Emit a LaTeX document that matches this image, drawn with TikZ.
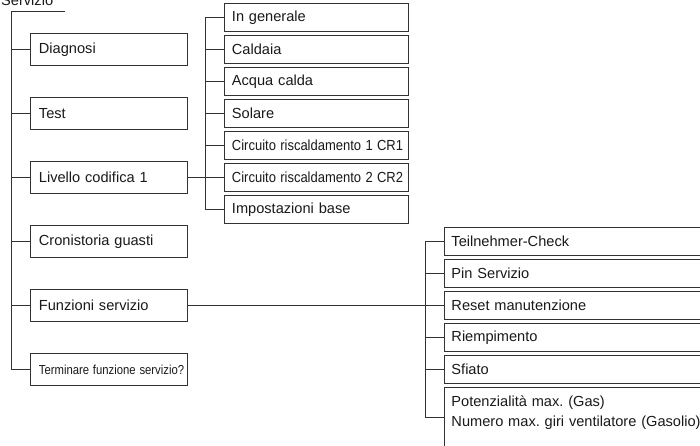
\documentclass[tikz,border=0pt]{standalone}
\usepackage{fontspec}
\usepackage{graphicx}
\setmainfont{Liberation Sans}
\usetikzlibrary{positioning, calc}
\newcommand{\narrowtext}[2]{\scalebox{#1}[1]{#2}}

\tikzset{
  menu/.style={draw=black!80, line width=0.9pt, anchor=west, align=left, inner ysep=0pt,
    font=\fontsize{14.6}{18}\selectfont, text=black!90},
  mainbox/.style={menu, text width=140pt, inner xsep=8.5pt, minimum height=32pt},
  subbox/.style={menu, text width=169pt, inner xsep=7.5pt, minimum height=28.5pt},
  funcbox/.style={menu, text width=300pt, inner xsep=7pt, minimum height=28.5pt},
  link/.style={draw=black!80, line width=0.9pt}
}

\begin{document}
\frenchspacing
\begin{tikzpicture}[x=1pt, y=-1pt]
\useasboundingbox (0,0) rectangle (700,445);
\clip (0,0) rectangle (700,445);

% ---------------- LEFT: main menu ----------------
\node[anchor=base west, inner sep=0pt, text=black!90, font=\fontsize{14.6}{18}\selectfont] (serv) at (1,5) {Servizio};
\node[mainbox] (diag) at (30,49.5) {Diagnosi};
\node[mainbox] (test) at (30,113.5) {Test};
\node[mainbox] (liv) at (30,177.5) {Livello codifica 1};
\node[mainbox] (cron) at (30,241.5) {Cronistoria guasti};
\node[mainbox] (funz) at (30,305.5) {Funzioni servizio};
\node[mainbox, font=\fontsize{13}{16}\selectfont] (term) at (30,369.5) {\narrowtext{0.87}{Terminare funzione servizio?}};
% Trunk
\coordinate (root) at (11,11);
\coordinate (rootend) at (65,11);
\draw[link] (rootend) -- (root) |- (term.west);
\foreach \n in {diag,test,liv,cron,funz} \draw[link] (root |- \n.west) -- (\n.west);

% ---------------- MIDDLE: codifica ----------------
\node[subbox] (gen) at (224,17.5) {In generale};
\node[subbox] (cald) at (224,49.5) {Caldaia};
\node[subbox] (acqua) at (224,81.5) {Acqua calda};
\node[subbox] (sol) at (224,113.5) {Solare};
\node[subbox] (crA) at (224,145.5) {\narrowtext{0.89}{Circuito riscaldamento 1 CR1}};
\node[subbox] (crB) at (224,177.5) {\narrowtext{0.89}{Circuito riscaldamento 2 CR2}};
\node[subbox] (imp) at (224,209.5) {Impostazioni base};
% Branches
\draw[link] (gen.west) -- ++(-18.3,0) coordinate (mtop) |- (imp.west);
\foreach \n in {cald,acqua,sol,crA} \draw[link] (mtop |- \n.west) -- (\n.west);
\draw[link] (liv.east) -- (crB.west);

% ---------------- RIGHT: funzioni servizio ----------------
\node[funcbox] (teil) at (444,241.5) {Teilnehmer-Check};
\node[funcbox] (pin) at (444,273.5) {Pin Servizio};
\node[funcbox] (reset) at (444,305.5) {Reset manutenzione};
\node[funcbox] (riem) at (444,337.5) {Riempimento};
\node[funcbox] (sfi) at (444,369.5) {Sfiato};
\node[funcbox, anchor=north west, minimum height=0pt, inner ysep=8pt, text depth=34pt,
  font=\fontsize{14.6}{20}\selectfont] (pot) at (444,387) {Potenzialità max. (Gas)\\Numero max. giri ventilatore (Gasolio)};
\coordinate (potin) at ($(pot.north west)+(0,30)$);
% Branches
\draw[link] (teil.west) -- ++(-18.3,0) coordinate (rtop) |- (potin);
\foreach \n in {pin,riem,sfi} \draw[link] (rtop |- \n.west) -- (\n.west);
\draw[link] (funz.east) -- (reset.west);
\end{tikzpicture}
\end{document}
